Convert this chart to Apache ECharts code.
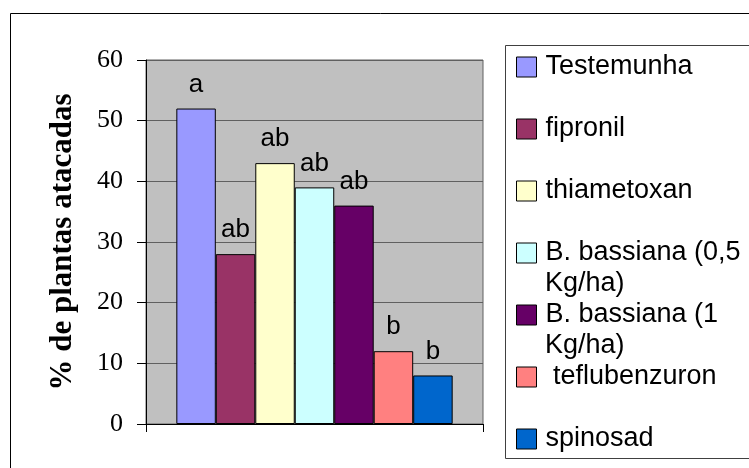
<!DOCTYPE html>
<html lang="pt">
    <head>
        <meta charset="UTF-8" />
        <title>% de plantas atacadas</title>
        <script src="https://cdn.jsdelivr.net/npm/echarts@6/dist/echarts.min.js"></script>
        <style>
            body {
                margin: 0;
                padding: 0;
                background: #fff;
            }
            #chart {
                width: 749px;
                height: 468px;
            }
        </style>
    </head>
    <body>
        <div id="chart"></div>
        <script>
            // treatments, as written in the legend (second line after \n)
            let treatments = [
                'Testemunha',
                'fipronil',
                'thiametoxan',
                'B. bassiana (0,5\nKg/ha)',
                'B. bassiana (1\nKg/ha)',
                ' teflubenzuron',
                'spinosad'
            ];
            let attacked = [52, 28, 43, 39, 36, 12, 8];
            let letters = ['a', 'ab', 'ab', 'ab', 'ab', 'b', 'b'];
            let colors = ['#9999ff', '#993366', '#ffffcc', '#ccffff', '#660066', '#ff8080', '#0066cc'];
            let yTicks = [0, 10, 20, 30, 40, 50, 60];

            let series = [];
            for (let i = 0; i < treatments.length; i++) {
                series.push({
                    name: treatments[i],
                    type: 'bar',
                    data: [attacked[i]],
                    barGap: '0%',
                    barCategoryGap: '18%',
                    itemStyle: {
                        color: colors[i],
                        borderColor: '#000',
                        borderWidth: 1
                    },
                    label: {
                        show: true,
                        position: 'top',
                        distance: 11,
                        formatter: letters[i],
                        color: '#000',
                        fontFamily: 'Liberation Sans',
                        fontSize: 26
                    }
                });
            }

            // legend rows are 62px apart; wrapped second lines go under the first one
            let legendTop = 51.5;
            let rowStep = 62;
            let legendFont = { fontFamily: 'Liberation Sans', fontSize: 27, lineHeight: 31, color: '#000' };
            let wrapped = [];
            treatments.forEach((name, i) => {
                let parts = name.split('\n');
                if (parts.length > 1) {
                    wrapped.push({
                        type: 'text',
                        silent: true,
                        x: 545,
                        y: legendTop + rowStep * i + 15.5 + 31,
                        style: Object.assign({ text: parts[1], verticalAlign: 'middle', fill: '#000' }, legendFont, {
                            font: '27px "Liberation Sans"'
                        })
                    });
                }
            });

            let myChart = echarts.init(document.getElementById('chart'));
            let option = {
                animation: false,
                backgroundColor: '#fff',
                grid: {
                    left: 146,
                    right: 266,
                    top: 60,
                    bottom: 44,
                    show: true,
                    backgroundColor: '#c0c0c0',
                    borderColor: '#606060',
                    borderWidth: 1
                },
                legend: {
                    orient: 'vertical',
                    left: 516,
                    top: legendTop,
                    padding: 0,
                    itemGap: rowStep - 31,
                    itemWidth: 20,
                    itemHeight: 20,
                    icon: 'rect',
                    itemStyle: {
                        borderColor: '#000',
                        borderWidth: 1
                    },
                    formatter: (name) => '{t|' + name.split('\n')[0] + '}',
                    textStyle: Object.assign({}, legendFont, {
                        rich: {
                            t: Object.assign({ padding: [0, 0, 0, 4] }, legendFont)
                        }
                    }),
                    data: treatments
                },
                xAxis: {
                    type: 'category',
                    data: [''],
                    axisLine: { lineStyle: { color: '#000', width: 1 } },
                    axisTick: { show: true, length: 8, lineStyle: { color: '#000' } },
                    axisLabel: { show: false },
                    splitLine: { show: false }
                },
                yAxis: {
                    type: 'value',
                    min: yTicks[0],
                    max: yTicks[yTicks.length - 1],
                    interval: 10,
                    name: '% de plantas atacadas',
                    nameLocation: 'middle',
                    nameGap: 68,
                    nameTextStyle: {
                        fontFamily: 'Liberation Serif',
                        fontWeight: 'bold',
                        fontSize: 31,
                        color: '#000'
                    },
                    axisLine: { show: true, lineStyle: { color: '#000', width: 1 } },
                    axisTick: { show: true, length: 9, lineStyle: { color: '#000' } },
                    axisLabel: {
                        margin: 23,
                        color: '#000',
                        fontFamily: 'Liberation Serif',
                        fontSize: 26
                    },
                    splitLine: { show: true, lineStyle: { color: '#606060', width: 1 } }
                },
                graphic: [
                    {
                        // outer chart frame
                        type: 'rect',
                        silent: true,
                        shape: { x: 10.5, y: 13.5, width: 800, height: 500 },
                        style: { fill: null, stroke: '#000', lineWidth: 1 }
                    },
                    {
                        // legend box
                        type: 'rect',
                        silent: true,
                        shape: { x: 505.5, y: 45.5, width: 300, height: 413 },
                        style: { fill: null, stroke: '#404040', lineWidth: 1 }
                    }
                ].concat(wrapped),
                series: series
            };
            myChart.setOption(option);
        </script>
    </body>
</html>
